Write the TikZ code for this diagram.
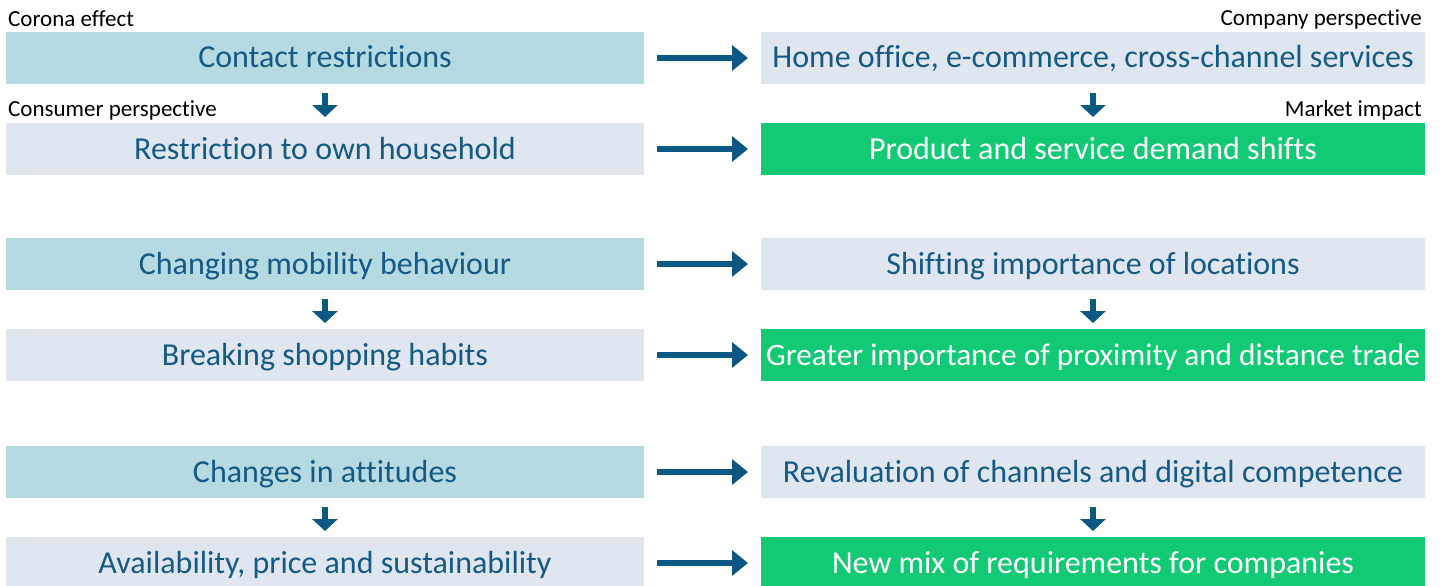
\documentclass[tikz,border=0pt]{standalone}
\usepackage{fontspec}
\setmainfont{Carlito}[Ligatures={NoCommon}]
\usetikzlibrary{arrows.meta}
\definecolor{tealbox}{HTML}{B5DAE2}
\definecolor{palebox}{HTML}{E0E6F0}
\definecolor{greenbox}{HTML}{12CA74}
\definecolor{inkblue}{HTML}{145A85}
\definecolor{arrowblue}{HTML}{0C5884}
\tikzset{
  box/.style={minimum width=#1, minimum height=52pt, inner sep=0pt, outer sep=0pt,
    text height=24pt, text depth=4pt, font=\fontsize{32}{36}\selectfont, text=inkblue},
  leftbox/.style={box=638pt},
  rightbox/.style={box=664pt},
  cause/.style={leftbox, fill=tealbox},
  effect/.style={fill=palebox},
  impact/.style={rightbox, fill=greenbox, text=white},
  snug/.style={font=\fontsize{31.3}{36}\selectfont},
  caption/.style={font=\fontsize{23}{26}\selectfont, text=black, inner sep=0pt},
  flow/.style={arrowblue, line width=6pt, -{Triangle[width=25pt, length=16pt]}},
  drop/.style={arrowblue, line width=6pt, -{Triangle[width=25pt, length=12pt]}},
}
\begin{document}
\begin{tikzpicture}[x=1pt, y=-1pt]
\useasboundingbox (0,0) rectangle (1441,586);
% left column
\node[cause] (c1) at (325,58) {Contact restrictions};
\node[leftbox, effect] (e1) at (325,149) {Restriction to own household};
\node[cause] (c2) at (325,264) {Changing mobility behaviour};
\node[leftbox, effect] (e2) at (325,355) {Breaking shopping habits};
\node[cause] (c3) at (325,472) {Changes in attitudes};
\node[leftbox, effect] (e3) at (325,563) {Availability, price and sustainability};
% right column
\node[rightbox, effect] (p1) at (1093,58) {Home office, e-commerce, cross-channel services};
\node[impact] (m1) at (1093,149) {Product and service demand shifts};
\node[rightbox, effect] (p2) at (1093,264) {Shifting importance of locations};
\node[impact, snug] (m2) at (1093,355) {Greater importance of proximity and distance trade};
\node[rightbox, effect] (p3) at (1093,472) {Revaluation of channels and digital competence};
\node[impact] (m3) at (1093,563) {New mix of requirements for companies};
% captions
\node[caption, anchor=base west] (lc1) at (8,27) {Corona effect};
\node[caption, anchor=base west] (lc2) at (8,117) {Consumer perspective};
\node[caption, anchor=base east] (rc1) at (1422,26) {Company perspective};
\node[caption, anchor=base east] (rc2) at (1422,117) {Market impact};
% horizontal arrows between columns
\foreach \a/\b in {c1/p1, e1/m1, c2/p2, e2/m2, c3/p3, e3/m3}{
  \draw[flow] ([xshift=13pt]\a.east) -- ([xshift=-13pt]\b.west);
}
% vertical arrows within columns
\foreach \a/\b in {c1/e1, c2/e2, c3/e3, p1/m1, p2/m2, p3/m3}{
  \draw[drop] ([yshift=-9pt]\a.south) -- ([yshift=6pt]\b.north);
}
\end{tikzpicture}
\end{document}
